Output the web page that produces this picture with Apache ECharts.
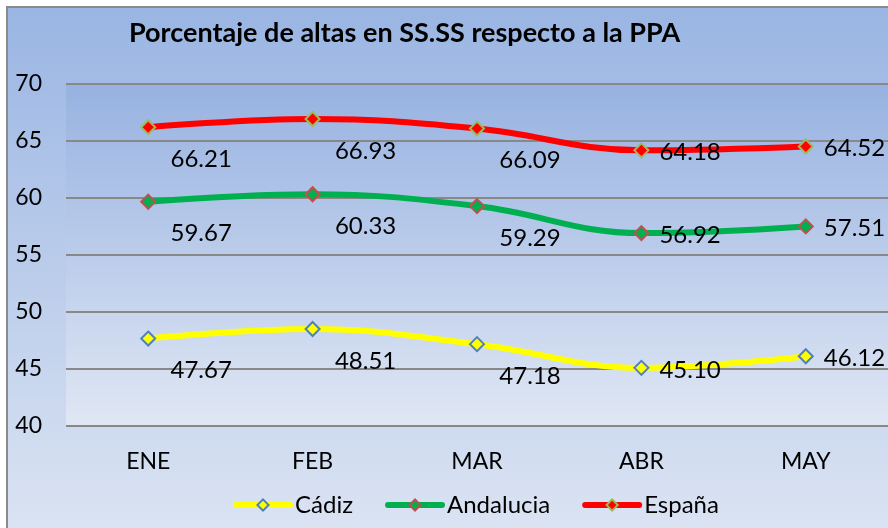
<!DOCTYPE html>
<html><head><meta charset="utf-8">
<script src="https://cdn.jsdelivr.net/npm/echarts@6/dist/echarts.min.js"></script>
<style>html,body{margin:0;padding:0;background:#fff}#c{width:888px;height:528px}</style>
</head><body><div id="c"></div>
<script>
const categories = ['ENE','FEB','MAR','ABR','MAY'];
const cadiz = [47.67, 48.51, 47.18, 45.10, 46.12];
const andalucia = [59.67, 60.33, 59.29, 56.92, 57.51];
const espana = [66.21, 66.93, 66.09, 64.18, 64.52];
const seriesNames = ['Cádiz','Andalucia','España'];
const yTicks = [40, 45, 50, 55, 60, 65, 70];

const FONT = 'Lato';
function mkData(vals){
  return vals.map((v,i)=>({
    value: v,
    label: i < 3
      ? {position:'inside', offset:[53, 32]}
      : {position:'right', distance:10, offset:[0, 2]}
  }));
}
function mkSeries(name, vals, lineColor, fill, border){
  return {
    name, type:'line', smooth:0.4, data: mkData(vals),
    symbol:'diamond', symbolSize:14,
    lineStyle:{color:lineColor, width:6},
    itemStyle:{color:fill, borderColor:border, borderWidth:2},
    label:{show:true, color:'#000', fontFamily:FONT, fontSize:24,
      formatter:p=>p.value.toFixed(2)},
    emphasis:{disabled:true}, z:3
  };
}
const chart = echarts.init(document.getElementById('c'), null, {renderer:'canvas'});
chart.setOption({
  animation:false,
  graphic:[{type:'rect', z:-10, silent:true,
    shape:{x:7, y:7, width:900, height:540},
    style:{fill:new echarts.graphic.LinearGradient(0,0,0,1,[{offset:0,color:'#9ab5e3'},{offset:1,color:'#dde5f3'}]),
      stroke:'#8a8a8a', lineWidth:2}}],
  title:{text:'Porcentaje de altas en SS.SS respecto a la PPA', left:124, top:15,
    textStyle:{fontFamily:FONT, fontWeight:'bold', fontSize:27, color:'#000'}},
  grid:{left:66, right:-7, top:84, bottom:102, show:true, borderWidth:0,
    backgroundColor:new echarts.graphic.LinearGradient(0,0,0,1,[{offset:0,color:'#97b2e1'},{offset:1,color:'#e0e7f4'}])},
  legend:{data:seriesNames, bottom:6, left:228, itemWidth:54, itemHeight:14, itemGap:32,
    lineStyle:{width:6, cap:'round'},
    textStyle:{fontFamily:FONT, fontSize:24, color:'#000'}},
  xAxis:{type:'category', data:categories, boundaryGap:true,
    axisLine:{show:false}, axisTick:{show:false},
    axisLabel:{fontFamily:FONT, fontSize:23, color:'#000', margin:24}},
  yAxis:{type:'value', min:yTicks[0], max:yTicks[yTicks.length-1], interval:5,
    axisLine:{show:false}, axisTick:{show:false},
    axisLabel:{fontFamily:FONT, fontSize:23, color:'#000', margin:24, align:'right',
      formatter:v=>yTicks.includes(v)?String(v):''},
    splitLine:{lineStyle:{color:'#888', width:2}}},
  series:[
    mkSeries(seriesNames[0], cadiz, '#ffff00', '#ffff00', '#4f81bd'),
    mkSeries(seriesNames[1], andalucia, '#00b050', '#00b050', '#c0504d'),
    mkSeries(seriesNames[2], espana, '#ff0000', '#ff0000', '#9bbb59')
  ]
});
</script></body></html>
